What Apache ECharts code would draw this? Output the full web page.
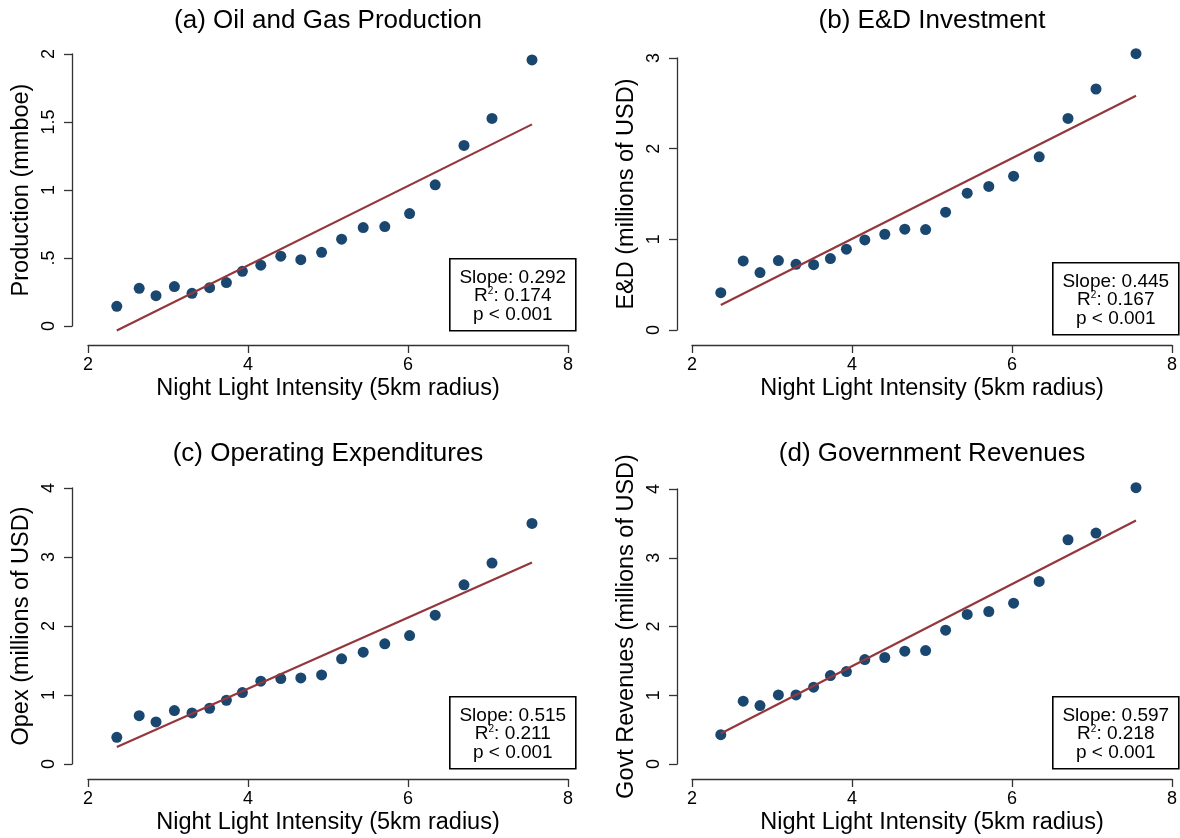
<!DOCTYPE html>
<html>
<head>
<meta charset="utf-8">
<style>
  html, body { margin: 0; padding: 0; background: #fff; }
  #chart { width: 1180px; height: 838px; }
</style>
<script src="https://cdn.jsdelivr.net/npm/echarts@6/dist/echarts.min.js"></script>
</head>
<body>
<div id="chart"></div>
<script>
// Binned night-light intensity (bin means, shared by all four panels)
const binX = [2.36, 2.64, 2.85, 3.08, 3.30, 3.52, 3.73, 3.93, 4.16, 4.41,
              4.66, 4.92, 5.17, 5.44, 5.71, 6.02, 6.34, 6.70, 7.05, 7.55];

// Bin means of each outcome
const production = [0.145, 0.277, 0.223, 0.290, 0.240, 0.282, 0.319, 0.402, 0.447, 0.513,
                    0.488, 0.542, 0.638, 0.724, 0.731, 0.827, 1.038, 1.328, 1.526, 1.956];
const exploration = [0.412, 0.762, 0.633, 0.766, 0.725, 0.721, 0.788, 0.891, 0.994, 1.056,
                     1.112, 1.108, 1.299, 1.509, 1.583, 1.697, 1.910, 2.334, 2.658, 3.048];
const opex = [0.387, 0.701, 0.609, 0.774, 0.740, 0.808, 0.924, 1.035, 1.200, 1.238,
              1.248, 1.291, 1.524, 1.620, 1.741, 1.862, 2.157, 2.597, 2.912, 3.487];
const govtRevenues = [0.427, 0.913, 0.850, 1.005, 1.005, 1.117, 1.286, 1.345, 1.519, 1.549,
                      1.641, 1.650, 1.947, 2.175, 2.218, 2.340, 2.655, 3.262, 3.359, 4.019];

// Linear fit per panel: slope, intercept, R-squared, p-value text
const fitSlope = [0.292, 0.445, 0.515, 0.597];
const fitIntercept = [-0.722, -0.775, -0.969, -0.965];
const fitR2 = ['0.174', '0.167', '0.211', '0.218'];
const fitP = ['0.001', '0.001', '0.001', '0.001'];

const panelTitles = ['(a) Oil and Gas Production', '(b) E&D Investment',
                     '(c) Operating Expenditures', '(d) Government Revenues'];
const yTitles = ['Production (mmboe)', 'E&D (millions of USD)',
                 'Opex (millions of USD)', 'Govt Revenues (millions of USD)'];
const xTitle = 'Night Light Intensity (5km radius)';
const yMax = [2, 3, 4, 4];
const yStep = [0.5, 1, 1, 1];
const xTicks = { min: 2, max: 8, step: 2 };

const seriesValues = [production, exploration, opex, govtRevenues];

const FONT = "'Liberation Sans', Arial, Helvetica, sans-serif";
const NAVY = '#1a476f';
const MAROON = '#94373d';
const AXIS = '#333333';

// Panel frames: grid position (plot region) and axis offsets
const frames = [
  { left: 88,  top: 54,  height: 272, xOff: 19, yOff: 16, titleTop: 8 },
  { left: 692, top: 58,  height: 272, xOff: 15, yOff: 15, titleTop: 8 },
  { left: 88,  top: 488, height: 276, xOff: 15, yOff: 16, titleTop: 441 },
  { left: 692, top: 489, height: 275, xOff: 15, yOff: 15, titleTop: 441 }
];
const boxes = [
  { left: 449,  top: 258 },
  { left: 1052, top: 262 },
  { left: 449,  top: 696 },
  { left: 1052, top: 696 }
];

function stataNum(v) {
  // Stata-style labels: drop leading zero (".5")
  let s = String(+v.toFixed(2));
  if (s.startsWith('0.')) s = s.slice(1);
  return s;
}

const grids = [], xAxes = [], yAxes = [], series = [], titles = [], graphics = [];

frames.forEach((f, i) => {
  grids.push({ left: f.left, top: f.top, width: 480, height: f.height,
               outerBoundsMode: 'none', containLabel: false });
  titles.push({
    text: panelTitles[i], left: f.left + 240, top: f.titleTop, textAlign: 'center', padding: 0,
    textStyle: { fontFamily: FONT, fontSize: 26, fontWeight: 'normal', color: '#000' }
  });
  xAxes.push({
    gridIndex: i, type: 'value', min: xTicks.min, max: xTicks.max, interval: xTicks.step,
    offset: f.xOff,
    name: xTitle, nameLocation: 'middle', nameGap: 32,
    nameTextStyle: { fontFamily: FONT, fontSize: 23.5, color: '#000' },
    axisLine: { show: true, onZero: false, lineStyle: { color: AXIS, width: 1.3 } },
    axisTick: { show: true, length: 8, lineStyle: { color: AXIS, width: 1.3 } },
    axisLabel: { fontFamily: FONT, fontSize: 18, color: '#000', margin: 11 },
    splitLine: { show: false }
  });
  yAxes.push({
    gridIndex: i, type: 'value', min: 0, max: yMax[i], interval: yStep[i],
    offset: f.yOff,
    name: yTitles[i], nameLocation: 'middle', nameGap: 38,
    nameTextStyle: { fontFamily: FONT, fontSize: 23.5, color: '#000' },
    axisLine: { show: true, onZero: false, lineStyle: { color: AXIS, width: 1.3 } },
    axisTick: { show: true, length: 8, lineStyle: { color: AXIS, width: 1.3 } },
    axisLabel: { fontFamily: FONT, fontSize: 18, color: '#000', margin: 14, rotate: 90,
                 formatter: stataNum },
    splitLine: { show: false }
  });

  const vals = seriesValues[i];
  series.push({
    type: 'scatter', xAxisIndex: i, yAxisIndex: i, clip: false,
    symbol: 'circle', symbolSize: 11,
    itemStyle: { color: NAVY, opacity: 1 },
    data: binX.map((x, k) => [x, vals[k]]),
    z: 2
  });
  const x0 = binX[0], x1 = binX[binX.length - 1];
  series.push({
    type: 'line', xAxisIndex: i, yAxisIndex: i, clip: false,
    symbol: 'none', silent: true,
    lineStyle: { color: MAROON, width: 2.2 },
    data: [[x0, fitIntercept[i] + fitSlope[i] * x0], [x1, fitIntercept[i] + fitSlope[i] * x1]],
    z: 3
  });

  const b = boxes[i];
  graphics.push({
    type: 'group', left: b.left, top: b.top, z: 10,
    children: [
      { type: 'rect', shape: { x: 0, y: 0, width: 126, height: 72 },
        style: { fill: '#fff', stroke: '#000', lineWidth: 1.6 } },
      { type: 'text', x: 63, y: 37,
        style: {
          text: 'Slope: ' + fitSlope[i].toFixed(3) + '\nR{sup|2}: ' + fitR2[i] + '\np < ' + fitP[i],
          align: 'center', verticalAlign: 'middle',
          fontFamily: FONT, fontSize: 19, lineHeight: 18.5, fill: '#000',
          rich: { sup: { fontFamily: FONT, fontSize: 10, lineHeight: 6, verticalAlign: 'top', fill: '#000' } }
        } }
    ]
  });
});

const chart = echarts.init(document.getElementById('chart'), null, { renderer: 'canvas' });
chart.setOption({
  backgroundColor: '#fff',
  animation: false,
  title: titles,
  grid: grids,
  xAxis: xAxes,
  yAxis: yAxes,
  series: series,
  graphic: graphics
});
</script>
</body>
</html>
